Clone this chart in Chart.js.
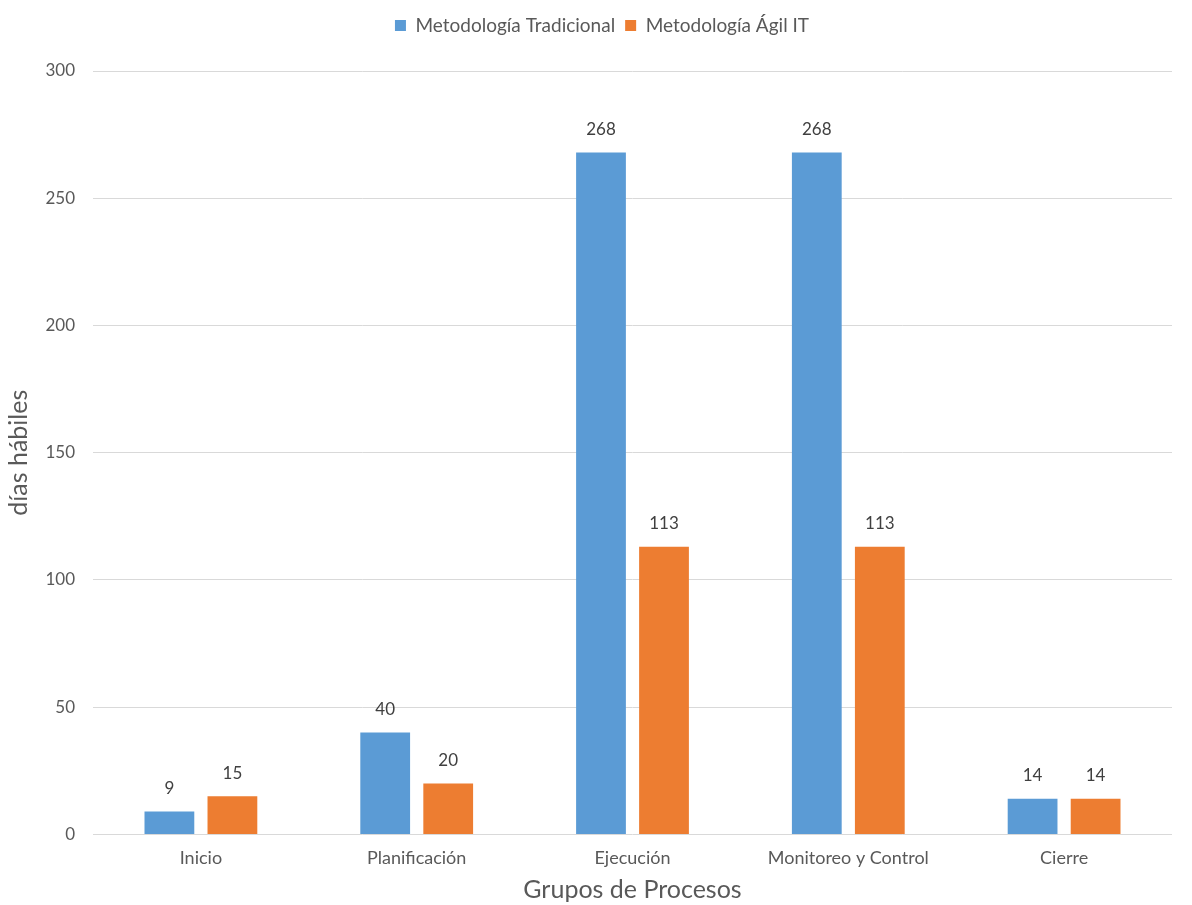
<!DOCTYPE html>
<html>
<head>
<meta charset="utf-8">
<script src="https://cdn.jsdelivr.net/npm/chart.js@4.4.1/dist/chart.umd.min.js"></script>
<style>
  html, body { margin: 0; padding: 0; background: #ffffff; }
  #wrap { width: 1192px; height: 905px; position: relative; }
</style>
</head>
<body>
<div id="wrap"><canvas id="chart"></canvas></div>
<script>
const categories = ['Inicio', 'Planificación', 'Ejecución', 'Monitoreo y Control', 'Cierre'];
const tradicional = [9, 40, 268, 268, 14];
const agil = [15, 20, 113, 113, 14];
const seriesNames = ['Metodología Tradicional', 'Metodología Ágil IT'];
const yTicks = [0, 50, 100, 150, 200, 250, 300];

const FONT = 'Lato, "Open Sans", sans-serif';
const TEXT = '#595959';

// Draws each bar's value just above it
const valueLabels = {
  id: 'valueLabels',
  afterDatasetsDraw(chart) {
    const ctx = chart.ctx;
    ctx.save();
    ctx.font = '17px ' + FONT;
    ctx.fillStyle = '#404040';
    ctx.textAlign = 'center';
    ctx.textBaseline = 'middle';
    chart.data.datasets.forEach((ds, i) => {
      chart.getDatasetMeta(i).data.forEach((bar, j) => {
        ctx.fillText(String(ds.data[j]), bar.x, bar.y - 23);
      });
    });
    ctx.restore();
  }
};

// Extra room under the legend, and the legend centred over the plot area
const legendPlacement = {
  id: 'legendPlacement',
  beforeLayout(chart) {
    const lg = chart.legend;
    if (lg && !lg._placed) {
      const fit = lg.fit;
      lg.fit = function () { fit.call(this); this.height += 26; };
      const draw = lg.draw;
      lg.draw = function () {
        const ctx = this.ctx;
        ctx.save();
        ctx.translate(14, 0);
        draw.call(this);
        ctx.restore();
      };
      lg._placed = true;
    }
  }
};

new Chart(document.getElementById('chart'), {
  type: 'bar',
  data: {
    labels: categories,
    datasets: [
      { label: seriesNames[0], data: tradicional, backgroundColor: '#5B9BD5',
        categoryPercentage: 0.584, barPercentage: 0.79 },
      { label: seriesNames[1], data: agil, backgroundColor: '#ED7D31',
        categoryPercentage: 0.584, barPercentage: 0.79 }
    ]
  },
  options: {
    responsive: true,
    maintainAspectRatio: false,
    animation: false,
    layout: { padding: { left: 4, right: 20, top: 6, bottom: 0 } },
    plugins: {
      legend: {
        position: 'top',
        labels: {
          font: { family: FONT, size: 19 },
          color: TEXT,
          boxWidth: 11,
          boxHeight: 11,
          padding: 10,
          useBorderRadius: false
        }
      },
      tooltip: { enabled: false }
    },
    scales: {
      x: {
        grid: { display: false },
        border: { display: false },
        ticks: { font: { family: FONT, size: 18 }, color: TEXT, padding: 5 },
        title: { display: true, text: 'Grupos de Procesos',
                 font: { family: FONT, size: 25 }, color: TEXT, padding: { top: 1, bottom: 0 } }
      },
      y: {
        min: 0,
        max: 300,
        afterBuildTicks(axis) { axis.ticks = yTicks.map(v => ({ value: v })); },
        afterFit(axis) { axis.width = 89; },
        grid: { color: '#D9D9D9', lineWidth: 1, drawTicks: false },
        border: { display: false },
        ticks: { font: { family: FONT, size: 17 }, color: TEXT, padding: 18 },
        title: { display: true, text: 'días hábiles',
                 font: { family: FONT, size: 25 }, color: TEXT, padding: { top: 0, bottom: 4 } }
      }
    }
  },
  plugins: [valueLabels, legendPlacement]
});
</script>
</body>
</html>
